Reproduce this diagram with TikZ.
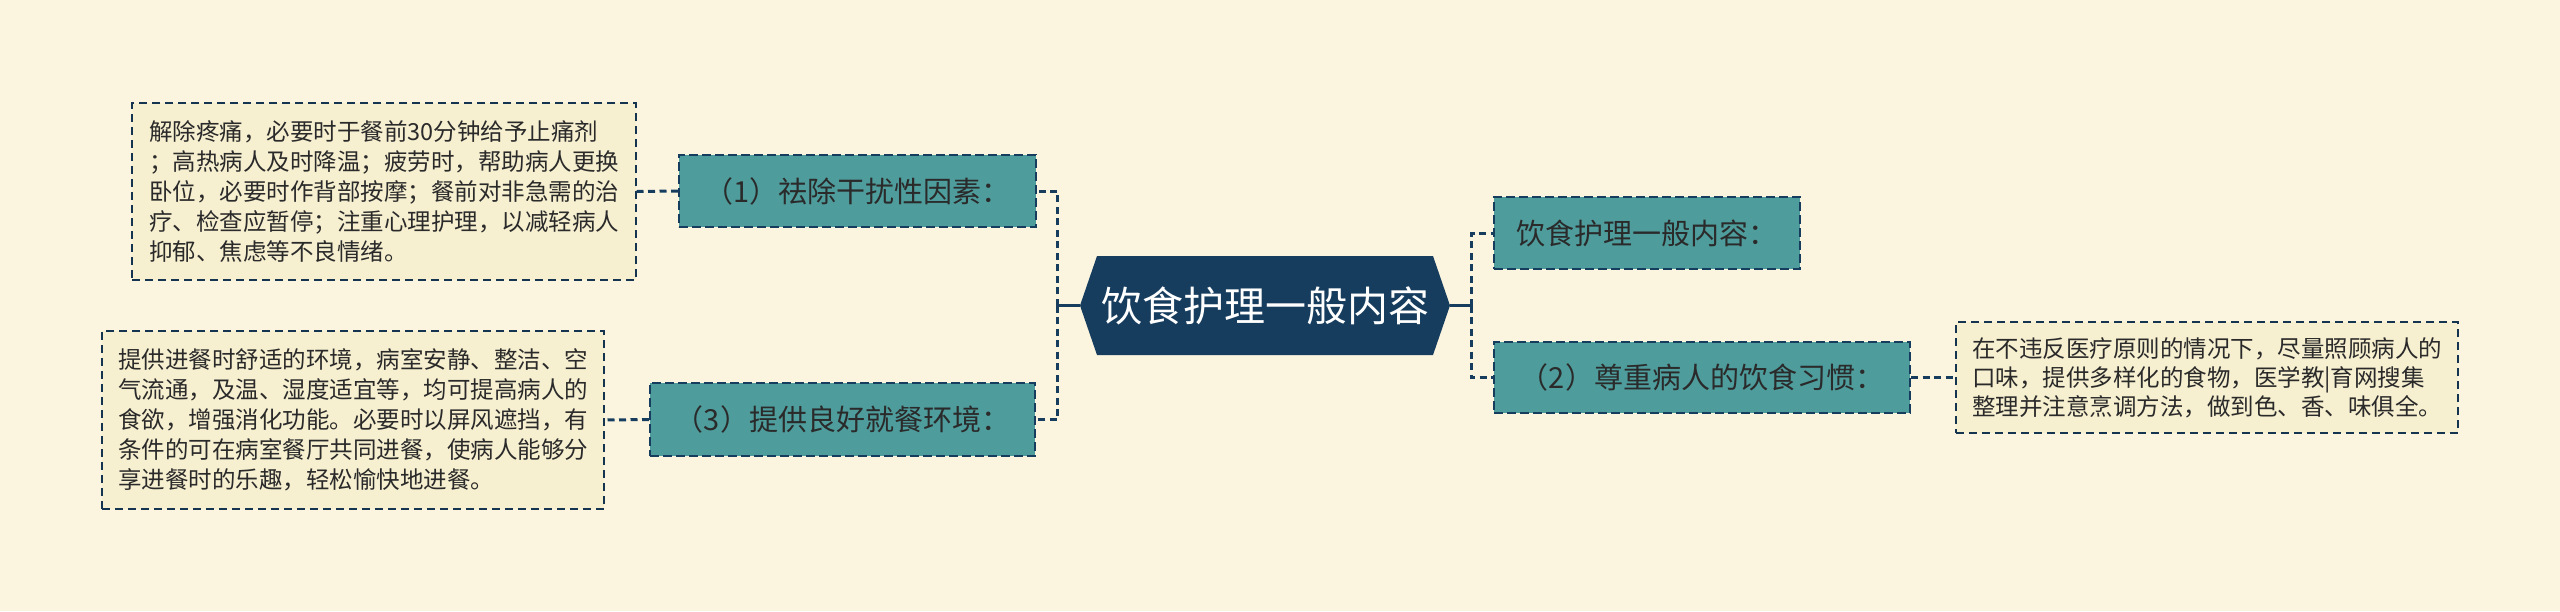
\documentclass[tikz,border=0pt]{standalone}
\usepackage{fontspec}
\newfontfamily\cjk{Noto Sans CJK SC}
\definecolor{bg}{HTML}{FBF5E0}
\definecolor{navy}{HTML}{173D5E}
\definecolor{tealbox}{HTML}{4F9C9C}
\definecolor{leaffill}{HTML}{F6EFD0}
\definecolor{txt}{HTML}{2A2A2A}
\tikzset{
  branch/.style={draw=navy, line width=2pt, dash pattern=on 9pt off 4pt, fill=tealbox,
    inner sep=0pt, font=\cjk\fontsize{29}{34}\selectfont, text=txt},
  leafbox/.style={draw=navy!85!black, line width=1.5pt, dash pattern=on 8pt off 5pt, fill=leaffill,
    inner sep=0pt, align=left, font=\cjk\fontsize{23.5}{30}\selectfont, text=txt},
  conn/.style={draw=navy, line width=3pt, dash pattern=on 7pt off 4.5pt},
  solidconn/.style={draw=navy, line width=3pt},
}
\begin{document}
\begin{tikzpicture}[x=1pt,y=-1pt]
\useasboundingbox (0,0) rectangle (2560,611);
\fill[bg] (0,0) rectangle (2560,611);

% central node
\node[minimum width=370pt, minimum height=99pt, inner sep=0pt, text=white,
  font=\cjk\fontsize{41}{48}\selectfont,
  path picture={\fill[navy] (path picture bounding box.west)
    -- ([xshift=17pt]path picture bounding box.north west)
    -- ([xshift=-17pt]path picture bounding box.north east)
    -- (path picture bounding box.east)
    -- ([xshift=-17pt]path picture bounding box.south east)
    -- ([xshift=17pt]path picture bounding box.south west) -- cycle;}]
  (c) at (1265,305.5) {饮食护理一般内容};

% branch nodes
\node[branch, minimum width=357pt, minimum height=72pt] (b1) at (857.5,191) {（1）祛除干扰性因素：};
\node[branch, minimum width=385pt, minimum height=73pt] (b3) at (842.5,419.5) {（3）提供良好就餐环境：};
\node[branch, minimum width=306pt, minimum height=72pt] (r1) at (1647,233) {饮食护理一般内容：};
\node[branch, minimum width=416pt, minimum height=71pt] (r2) at (1702,377.5) {（2）尊重病人的饮食习惯：};

% leaf nodes
\node[leafbox, minimum width=504pt, minimum height=177pt] (l1) at (384,191.5) {解除疼痛，必要时于餐前30分钟给予止痛剂\\；高热病人及时降温；疲劳时，帮助病人更换\\卧位，必要时作背部按摩；餐前对非急需的治\\疗、检查应暂停；注重心理护理，以减轻病人\\抑郁、焦虑等不良情绪。};
\node[leafbox, minimum width=502pt, minimum height=178pt] (l3) at (353,420) {提供进餐时舒适的环境，病室安静、整洁、空\\气流通，及温、湿度适宜等，均可提高病人的\\食欲，增强消化功能。必要时以屏风遮挡，有\\条件的可在病室餐厅共同进餐，使病人能够分\\享进餐时的乐趣，轻松愉快地进餐。};
\node[leafbox, minimum width=502pt, minimum height=111pt, font=\cjk\fontsize{23.5}{29}\selectfont] (rl) at (2207,377.5) {在不违反医疗原则的情况下，尽量照顾病人的\\口味，提供多样化的食物，医学教|育网搜集\\整理并注意烹调方法，做到色、香、味俱全。};

% junctions
\coordinate (lj) at ([xshift=-22pt]c.west);
\coordinate (rj) at ([xshift=21pt]c.east);

% connectors
\draw[solidconn] (c.west) -- (lj);
\draw[solidconn] (c.east) -- (rj);
\draw[conn] (lj) |- (b1.east);
\draw[conn] (lj) |- (b3.east);
\draw[conn] (rj) |- (r1.west);
\draw[conn] (rj) |- (r2.west);
\draw[conn] (b1.west) -- (l1.east);
\draw[conn] (b3.west) -- (l3.east);
\draw[conn] (r2.east) -- (rl.west);
\end{tikzpicture}
\end{document}
